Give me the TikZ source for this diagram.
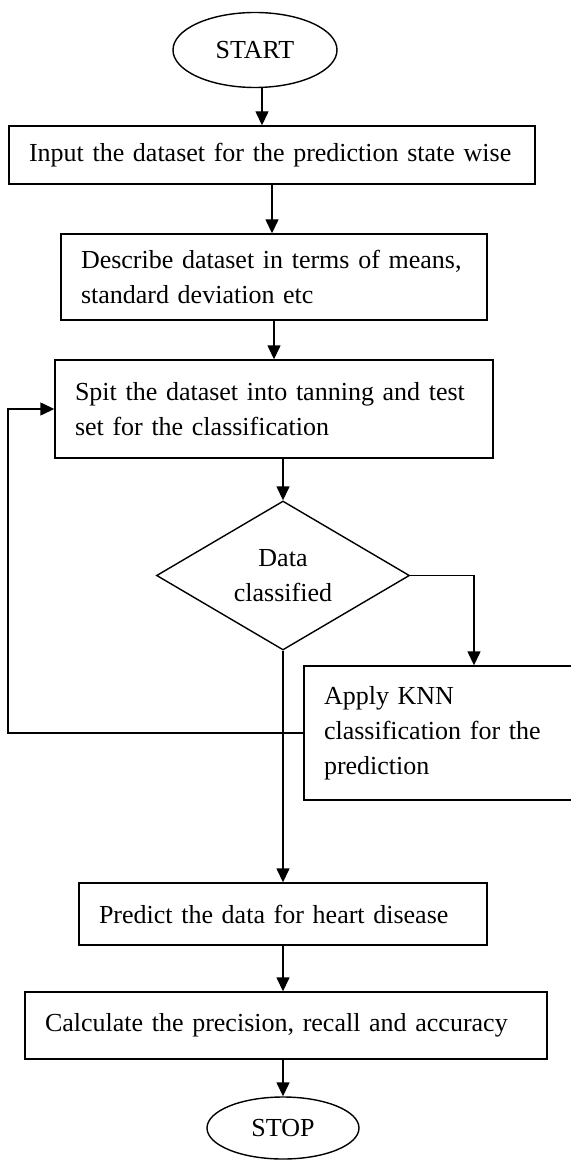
\documentclass[tikz,border=0pt]{standalone}
\usepackage{fontspec}
\setmainfont{Liberation Serif}
\usetikzlibrary{shapes.geometric, arrows.meta}

\begin{document}
\begin{tikzpicture}[x=0.5pt, y=-0.5pt, line width=0.7pt,
        font=\fontsize{13}{17.5}\selectfont,
        stepbox/.style={draw, rectangle, inner xsep=10pt, inner ysep=2pt, align=left},
        term/.style={draw, ellipse, inner sep=0pt},
        test/.style={draw, diamond, inner sep=0pt, align=center, shape aspect=1.7},
        arr/.style={-{Triangle[length=7pt, width=6.5pt]}}]
        \useasboundingbox (0, 0) rectangle (571, 1160);
        \node[term, minimum width=82pt, minimum height=37.5pt] (start) at (255, 50) {START};
        \node[stepbox, text width=243pt, minimum height=29pt] (in1) at (272, 155) {Input the dataset for the prediction state wise};
        \node[stepbox, text width=193pt, minimum height=43pt] (desc) at (274, 277) {Describe dataset in terms of means,\\ standard deviation etc};
        \node[stepbox, text width=199pt, minimum height=49pt] (split) at (274, 409) {Spit the dataset into tanning and test\\ set for the classification};
        \node[test, minimum width=126.5pt, minimum height=74.5pt] (dec) at (283, 575.5) {Data\\ classified};
        \node[stepbox, text width=150pt, minimum height=67pt] (knn) at (474, 733) {Apply KNN\\ classification for the\\ prediction};
        \node[stepbox, text width=184pt, minimum height=31pt] (pred) at (283, 914) {Predict the data for heart disease};
        \node[stepbox, text width=241pt, minimum height=33.5pt] (calc) at (286, 1025.5) {Calculate the precision, recall and accuracy};
        \node[term, minimum width=76pt, minimum height=31pt] (stop) at (283, 1128) {STOP};
        \coordinate (back) at (8, 0);
        \draw[arr] ([xshift=3.5pt]start.south) -- ([xshift=3.5pt]start.south |- in1.north);
        \draw[arr] (in1.south) -- (in1.south |- desc.north);
        \draw[arr] (desc.south) -- (desc.south |- split.north);
        \draw[arr] (dec.north |- split.south) -- (dec.north);
        \draw[arr] (dec.east) -| (knn.north);
        \draw[arr] (knn.west) -- (knn.west -| back) |- (split.west);
        \draw[arr] (dec.south) -- (dec.south |- pred.north);
        \draw[arr] (pred.south) -- (pred.south |- calc.north);
        \draw[arr] (calc.south -| stop.north) -- (stop.north);
    \end{tikzpicture}
\end{document}
